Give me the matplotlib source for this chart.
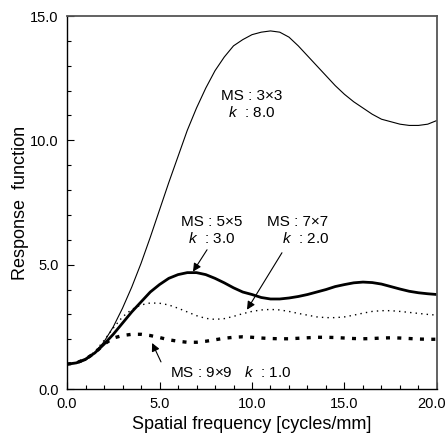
import numpy as np
import matplotlib
matplotlib.use("Agg")
import matplotlib.pyplot as plt
import matplotlib.transforms as mtransforms
from matplotlib.ticker import MultipleLocator

plt.rcParams['font.family'] = ['Liberation Sans', 'DejaVu Sans']
plt.rcParams['mathtext.fontset'] = 'custom'
plt.rcParams['mathtext.it'] = 'Liberation Sans:italic'
plt.rcParams['mathtext.rm'] = 'Liberation Sans'

freq = [0, 0.5, 1, 1.5, 2, 2.5, 3, 3.5, 4, 4.5, 5, 5.5, 6, 6.5, 7, 7.5, 8, 8.5, 9, 9.5,
        10, 10.5, 11, 11.5, 12, 12.5, 13, 13.5, 14, 14.5, 15, 15.5, 16, 16.5, 17, 17.5,
        18, 18.5, 19, 19.5, 20]

ms3 = [1.0, 1.03, 1.15, 1.45, 1.9, 2.5, 3.25, 4.1, 5.05, 6.1, 7.2, 8.3, 9.35, 10.4, 11.3,
       12.1, 12.8, 13.35, 13.8, 14.05, 14.25, 14.35, 14.4, 14.35, 14.15, 13.8, 13.4, 13.0,
       12.6, 12.2, 11.85, 11.55, 11.3, 11.05, 10.85, 10.75, 10.65, 10.6, 10.6, 10.65, 10.8]

ms5 = [1.0, 1.05, 1.2, 1.45, 1.8, 2.2, 2.65, 3.1, 3.5, 3.9, 4.2, 4.45, 4.6, 4.68, 4.68,
       4.6, 4.45, 4.27, 4.07, 3.9, 3.8, 3.68, 3.62, 3.62, 3.66, 3.72, 3.8, 3.9, 4.0, 4.12,
       4.2, 4.27, 4.3, 4.28, 4.22, 4.12, 4.02, 3.93, 3.87, 3.83, 3.8]

ms7 = [1.0, 1.05, 1.2, 1.5, 1.95, 2.45, 2.9, 3.2, 3.38, 3.46, 3.45, 3.38, 3.25, 3.1, 2.95,
       2.84, 2.8, 2.83, 2.92, 3.03, 3.12, 3.18, 3.2, 3.18, 3.12, 3.04, 2.97, 2.9, 2.87, 2.87,
       2.9, 2.97, 3.05, 3.12, 3.15, 3.15, 3.12, 3.08, 3.04, 3.0, 2.97]

ms9 = [1.0, 1.05, 1.2, 1.45, 1.8, 2.05, 2.15, 2.2, 2.2, 2.15, 2.07, 1.98, 1.92, 1.88, 1.88,
       1.92, 1.98, 2.04, 2.08, 2.1, 2.08, 2.05, 2.03, 2.02, 2.02, 2.04, 2.06, 2.08, 2.08, 2.07,
       2.05, 2.03, 2.02, 2.03, 2.05, 2.06, 2.05, 2.03, 2.01, 2.0, 2.0]

xticks = [0, 5, 10, 15, 20]
xticklabels = ['0.0', '5.0', '10.0', '15.0', '20.0']
yticks = [0, 5, 10, 15]
yticklabels = ['0.0', '5.0', '10.0', '15.0']

fig = plt.figure(figsize=(4.48, 4.41), dpi=100)
ax = fig.add_axes([0.1496, 0.1179, 0.8258, 0.8458])

ax.plot(freq, ms3, color='black', lw=0.8)
ax.plot(freq, ms5, color='black', lw=2.0)
ax.plot(freq, ms7, color='black', lw=1.0, linestyle=(0, (1, 3)))
ax.plot(freq, ms9, color='black', lw=2.4, linestyle=(0, (1.2, 2.2)))

ax.set_xlim(0, 20)
ax.set_ylim(0, 15)
ax.set_xticks(xticks, labels=xticklabels)
ax.set_yticks(yticks, labels=yticklabels)
ax.xaxis.set_minor_locator(MultipleLocator(1))
ax.yaxis.set_minor_locator(MultipleLocator(1))
ax.tick_params(which='both', direction='in', top=False, right=False, labelsize=10.5, color='black')
ax.tick_params(which='major', length=5, width=0.8, pad=6)
ax.tick_params(which='minor', length=3, width=0.8)

# nudge the last x tick label inward so it stays within the canvas
lab = ax.get_xticklabels()[-1]
lab.set_transform(lab.get_transform() + mtransforms.ScaledTranslation(-5 / 100, 0, fig.dpi_scale_trans))

for s in ['left', 'bottom']:
    ax.spines[s].set_color('black')
    ax.spines[s].set_linewidth(1.0)
for s in ['top', 'right']:
    ax.spines[s].set_color('#555555')
    ax.spines[s].set_linewidth(1.3)

ax.set_xlabel('Spatial frequency [cycles/mm]', fontsize=13, labelpad=3)
ax.set_ylabel('Response  function', fontsize=13, labelpad=1)

tfs = 11
ax.text(10.0, 11.8, 'MS : 3×3', fontsize=tfs, ha='center', va='center')
ax.text(10.0, 11.1, r'$k$  : 8.0', fontsize=tfs, ha='center', va='center')
ax.text(7.8, 6.7, 'MS : 5×5', fontsize=tfs, ha='center', va='center')
ax.text(7.8, 6.05, r'$k$  : 3.0', fontsize=tfs, ha='center', va='center')
ax.text(12.45, 6.7, 'MS : 7×7', fontsize=tfs, ha='center', va='center')
ax.text(12.9, 6.05, r'$k$  : 2.0', fontsize=tfs, ha='center', va='center')
ax.text(5.57, 0.65, r'MS : 9×9   $k$  : 1.0', fontsize=tfs, ha='left', va='center')

ap = dict(arrowstyle='-|>', color='black', lw=0.8, mutation_scale=12, shrinkA=0, shrinkB=0)
ax.annotate('', xy=(6.81, 4.72), xytext=(7.57, 5.6), arrowprops=ap)
ax.annotate('', xy=(9.73, 3.19), xytext=(11.62, 5.48), arrowprops=ap)
ax.annotate('', xy=(4.6, 1.85), xytext=(5.08, 1.09), arrowprops=ap)

fig.savefig('out.png', dpi=100)
